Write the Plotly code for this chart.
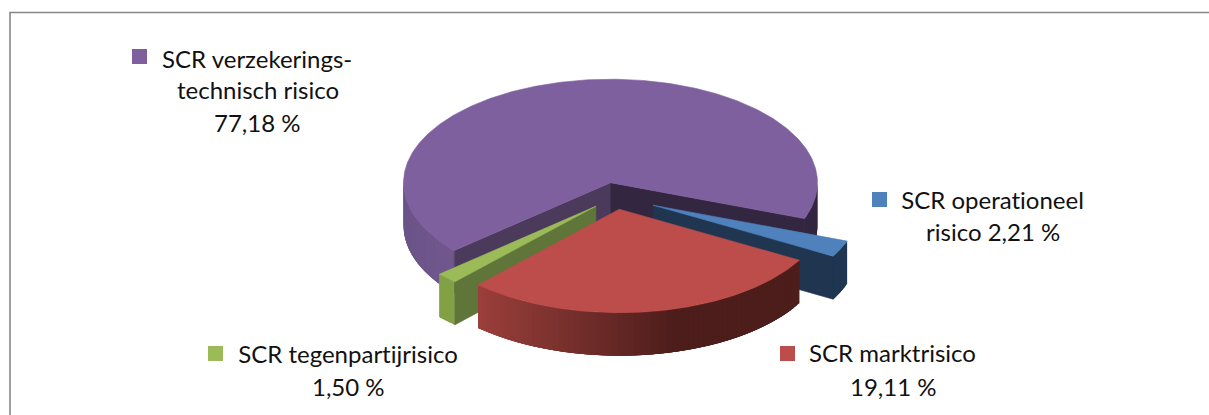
import math
import plotly.graph_objects as go

# Slices in clockwise drawing order from the start angle.
categories = ["SCR operationeel risico", "SCR marktrisico", "SCR tegenpartijrisico", "SCR verzekeringstechnisch risico"]
# Printed percentages, as the labels show them.
printed_labels = [["SCR operationeel", "risico 2,21 %"], ["SCR marktrisico", "19,11 %"],
                  ["SCR tegenpartijrisico", "1,50 %"], ["SCR verzekerings-", "technisch risico", "77,18 %"]]
# Shares of the circle as drawn
# (the drawn wedges are not proportional to the printed labels).
drawn_shares = [2.56, 28.75, 1.67, 67.02]

top_colors = ["#4f81bd", "#bd4d4a", "#9bbb59", "#7f609e"]
cut_colors = [("#1f3550", "#1f3550"), ("#4f1e1c", "#4f1e1c"), ("#60753a", "#60753a"), ("#4b3a5c", "#322640")]
wall_from = ["#1f3550", "#9b3f3b", "#82a044", "#6b5488"]
wall_to = ["#1f3550", "#4c1d1b", "#82a044", "#7a5c98"]
offsets = [(42.5, 22.5), (8.8, 26.5), (-14.6, 23.5), (0.0, 0.0)]
draw_order = [3, 0, 2, 1]

CX, CY, RX, RY, DEPTH = 610.5, 182.7, 207.0, 103.5, 43.0
START = -20.3
W, H = 1209, 415


def hexrgb(c):
    return tuple(int(c[i:i + 2], 16) for i in (1, 3, 5))


def mix(a, b, t):
    t = max(0.0, min(1.0, t))
    ra, rb = hexrgb(a), hexrgb(b)
    return "#%02x%02x%02x" % tuple(round(ra[i] + (rb[i] - ra[i]) * t) for i in range(3))


def pt(angle, ox, oy, r=1.0, dz=0.0):
    rad = math.radians(angle)
    return CX + ox + RX * r * math.cos(rad), CY + oy - RY * r * math.sin(rad) + dz


fig = go.Figure()


def poly(points, color, edge=0.6):
    xs = [p[0] for p in points] + [points[0][0]]
    ys = [p[1] for p in points] + [points[0][1]]
    fig.add_trace(go.Scatter(x=xs, y=ys, mode="lines", fill="toself", fillcolor=color,
                             line=dict(color=color, width=edge), hoverinfo="skip", showlegend=False))


# angle ranges from shares
ranges = []
a = START
for s in drawn_shares:
    b = a - s * 3.6
    ranges.append((a, b))
    a = b

for i in draw_order:
    a0, a1 = ranges[i]
    ox, oy = offsets[i]
    # outer wall: only front-facing angle runs (sin<0), split in overlapping strips for the shading
    n = max(4, int(abs(a1 - a0) / 1.5))
    steps = [a0 + (a1 - a0) * k / n for k in range(n + 1)]
    strips = [(p, q) for p, q in zip(steps[:-1], steps[1:]) if math.sin(math.radians((p + q) / 2)) < 0]
    if strips:
        xs_all = [pt(p, ox, oy)[0] for p, _ in strips] + [pt(strips[-1][1], ox, oy)[0]]
        lo, hi = min(xs_all), max(xs_all)
        # paint from one end, each strip running on to the far end of the wall, so no seams show
        far = strips[-1][1]
        for p, q in strips:
            xm = pt((p + q) / 2, ox, oy)[0]
            t = (xm - lo) / max(hi - lo, 1)
            if i == 1:
                col = mix(wall_from[i], wall_to[i], t / 0.62)
            elif i == 3:
                col = mix(wall_from[i], wall_to[i], t * 3) if xm < CX else cut_colors[3][1]
            else:
                col = mix(wall_from[i], wall_to[i], t)
            q2 = q + (far - q) * min(1.0, 3.0 * abs(q - p) / max(abs(far - q), 1e-6))
            poly([pt(p, ox, oy), pt(q2, ox, oy), pt(q2, ox, oy, dz=DEPTH), pt(p, ox, oy, dz=DEPTH)], col, edge=0)
    # cut faces that turn toward the viewer
    apex, apex_low = pt(0, ox, oy, r=0), pt(0, ox, oy, r=0, dz=DEPTH)
    if math.cos(math.radians(a0)) < 0:
        poly([apex, pt(a0, ox, oy), pt(a0, ox, oy, dz=DEPTH), apex_low], cut_colors[i][0])
    if math.cos(math.radians(a1)) > 0:
        poly([apex, pt(a1, ox, oy), pt(a1, ox, oy, dz=DEPTH), apex_low], cut_colors[i][1])
    # top face
    m = max(4, int(abs(a1 - a0) * 2))
    poly([apex] + [pt(a0 + (a1 - a0) * k / m, ox, oy) for k in range(m + 1)], top_colors[i])

# Legend keys and label lines
key_pos = [(879.5, 199.5), (787.5, 353.5), (215.5, 353.5), (139.5, 56.5)]
label_cx = [(992.5, 993), (892, 893), (347.5, 348), (257, 258, 257)]
label_cy = [(199.5, 231.5), (352.5, 386.5), (353.5, 386.5), (58.5, 89.5, 122.5)]
for i in range(len(categories)):
    fig.add_trace(go.Scatter(x=[key_pos[i][0]], y=[key_pos[i][1]], mode="markers",
                             marker=dict(symbol="square", size=15, color=top_colors[i], line=dict(width=0)),
                             name=categories[i], hoverinfo="name", showlegend=False))
    for text, x, y in zip(printed_labels[i], label_cx[i], label_cy[i]):
        fig.add_annotation(x=x, y=y, text=text, showarrow=False, xanchor="center", yanchor="middle",
                           font=dict(family="Lato", size=24, color="#111111"))

# Chart frame: left and top edges only are in view
fig.add_shape(type="path", path=f"M 10 {H+5} L 10 12.5 L {W+5} 12.5",
              line=dict(color="#868686", width=1.6))

fig.update_layout(width=W, height=H, margin=dict(l=0, r=0, t=0, b=0),
                  paper_bgcolor="white", plot_bgcolor="white", showlegend=False,
                  xaxis=dict(range=[0, W], visible=False, fixedrange=True),
                  yaxis=dict(range=[H, 0], visible=False, fixedrange=True))
page_css = ("document.body.style.margin='0';document.documentElement.style.overflow='hidden';"
            "var s=document.createElement('style');"
            "s.textContent='text{font-variant-ligatures:none !important}';document.head.appendChild(s);")
fig.write_html("out.html", config={"displayModeBar": False}, post_script=page_css)
